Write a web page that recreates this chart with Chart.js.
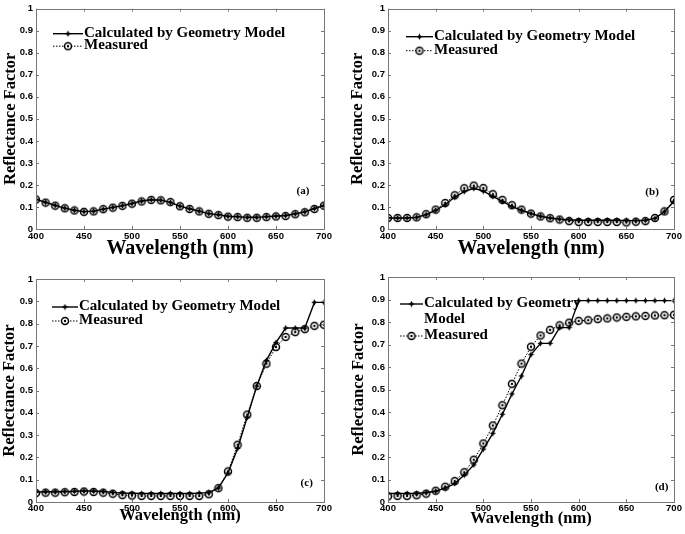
<!DOCTYPE html>
<html>
<head>
<meta charset="utf-8">
<script src="https://cdn.jsdelivr.net/npm/chart.js@4.4.1/dist/chart.umd.min.js"></script>
<style>
  html, body { margin: 0; padding: 0; background: #fff; }
  #wrap { position: relative; width: 685px; height: 534px; overflow: hidden; }
  #wrap canvas { position: absolute; }
</style>
</head>
<body>
<div id="wrap">
  <canvas id="cA" width="342" height="260" style="left:0;top:0"></canvas>
  <canvas id="cB" width="343" height="260" style="left:342px;top:0"></canvas>
  <canvas id="cC" width="342" height="274" style="left:0;top:260px"></canvas>
  <canvas id="cD" width="343" height="274" style="left:342px;top:260px"></canvas>
</div>
<script>
  // wavelengths (nm)
  const WAVELENGTH = [400, 410, 420, 430, 440, 450, 460, 470, 480, 490, 500, 510, 520, 530, 540, 550,
    560, 570, 580, 590, 600, 610, 620, 630, 640, 650, 660, 670, 680, 690, 700];

  const X_TICKS = [400, 450, 500, 550, 600, 650, 700];
  const Y_TICKS = ['0', '0.1', '0.2', '0.3', '0.4', '0.5', '0.6', '0.7', '0.8', '0.9', '1'];

  const SERIES_NAMES = ['Calculated by Geometry Model', 'Measured'];
  const PANEL_TAGS = ['(a)', '(b)', '(c)', '(d)'];

  // (a)
  const CALC_A = [0.135, 0.121, 0.107, 0.095, 0.085, 0.079, 0.081, 0.090, 0.098, 0.106, 0.116, 0.127, 0.133, 0.131, 0.121, 0.104,
    0.092, 0.081, 0.070, 0.065, 0.058, 0.056, 0.053, 0.053, 0.056, 0.059, 0.061, 0.069, 0.078, 0.093, 0.107];
  const MEAS_A = [0.134, 0.120, 0.106, 0.094, 0.084, 0.078, 0.080, 0.090, 0.097, 0.105, 0.115, 0.125, 0.132, 0.130, 0.122, 0.103,
    0.091, 0.080, 0.069, 0.063, 0.056, 0.054, 0.051, 0.051, 0.054, 0.057, 0.059, 0.067, 0.076, 0.091, 0.106];
  // (b)
  const CALC_B = [0.050, 0.050, 0.050, 0.053, 0.065, 0.085, 0.110, 0.145, 0.170, 0.185, 0.172, 0.148, 0.125, 0.102, 0.085, 0.070,
    0.058, 0.050, 0.045, 0.042, 0.040, 0.040, 0.040, 0.040, 0.040, 0.038, 0.038, 0.040, 0.048, 0.078, 0.125];
  const MEAS_B = [0.050, 0.050, 0.050, 0.053, 0.067, 0.088, 0.118, 0.153, 0.185, 0.197, 0.186, 0.158, 0.132, 0.108, 0.088, 0.070,
    0.057, 0.049, 0.043, 0.036, 0.032, 0.032, 0.032, 0.032, 0.032, 0.030, 0.033, 0.036, 0.050, 0.080, 0.132];
  // (c)
  const CALC_C = [0.045, 0.046, 0.046, 0.047, 0.048, 0.050, 0.049, 0.047, 0.043, 0.040, 0.039, 0.038, 0.038, 0.038, 0.038, 0.038,
    0.038, 0.040, 0.042, 0.063, 0.130, 0.240, 0.380, 0.520, 0.635, 0.715, 0.780, 0.780, 0.780, 0.895, 0.895];
  const MEAS_C = [0.040, 0.042, 0.042, 0.044, 0.045, 0.047, 0.045, 0.042, 0.037, 0.031, 0.029, 0.027, 0.027, 0.027, 0.027, 0.027,
    0.027, 0.027, 0.035, 0.062, 0.137, 0.257, 0.392, 0.520, 0.620, 0.695, 0.740, 0.762, 0.775, 0.790, 0.795];
  // (d)
  const CALC_D = [0.038, 0.038, 0.038, 0.038, 0.042, 0.048, 0.062, 0.082, 0.120, 0.165, 0.235, 0.305, 0.390, 0.480, 0.560, 0.655,
    0.705, 0.705, 0.775, 0.775, 0.895, 0.895, 0.895, 0.895, 0.895, 0.895, 0.895, 0.895, 0.895, 0.895, 0.895];
  const MEAS_D = [0.025, 0.027, 0.027, 0.030, 0.037, 0.050, 0.068, 0.093, 0.132, 0.188, 0.260, 0.340, 0.430, 0.525, 0.615, 0.690,
    0.740, 0.765, 0.785, 0.797, 0.805, 0.808, 0.813, 0.816, 0.820, 0.823, 0.825, 0.827, 0.829, 0.830, 0.832];

  // where the (a)..(d) tag sits, in data units
  const TAG_POS = [[678, 0.17], [677, 0.166], [682, 0.085], [687, 0.067]];

  const SERIF = "'Liberation Serif', 'Times New Roman', serif";
  const SANS = "'Liberation Sans', Arial, sans-serif";

  // ------------------------------------------------------------------
  //  marker images (MATLAB-ish '.-' and 'o:' with a centre dot)
  // ------------------------------------------------------------------
  function makeCalcMarker() {
    const c = document.createElement('canvas');
    c.width = 7; c.height = 7;
    const g = c.getContext('2d');
    g.fillStyle = '#000';
    g.beginPath();
    g.moveTo(3.5, 0.3); g.lineTo(4.6, 2.4); g.lineTo(6.7, 3.5); g.lineTo(4.6, 4.6);
    g.lineTo(3.5, 6.7); g.lineTo(2.4, 4.6); g.lineTo(0.3, 3.5); g.lineTo(2.4, 2.4);
    g.closePath();
    g.fill();
    return c;
  }
  function makeMeasMarker() {
    const c = document.createElement('canvas');
    c.width = 10; c.height = 10;
    const g = c.getContext('2d');
    g.strokeStyle = '#000';
    g.lineWidth = 1.5;
    g.fillStyle = '#fff';
    g.beginPath(); g.arc(5, 5, 3.5, 0, Math.PI * 2); g.fill(); g.stroke();
    g.fillStyle = '#000';
    g.beginPath(); g.arc(5, 5, 1.2, 0, Math.PI * 2); g.fill();
    return c;
  }
  const CALC_MARK = makeCalcMarker();
  const MEAS_MARK = makeMeasMarker();

  // ------------------------------------------------------------------
  //  frame, inward ticks, panel tag and in-plot legend
  // ------------------------------------------------------------------
  const matlabFrame = {
    id: 'matlabFrame',
    afterDraw(chart) {
      const o = chart.config.options.plugins.matlabFrame;
      const { ctx, chartArea: a } = chart;
      const xs = chart.scales.x, ys = chart.scales.y;
      ctx.save();
      ctx.strokeStyle = '#777';
      ctx.lineWidth = 1;
      ctx.strokeRect(Math.round(a.left) + 0.5, Math.round(a.top) + 0.5,
        Math.round(a.right - a.left), Math.round(a.bottom - a.top));
      ctx.beginPath();
      xs.ticks.forEach(t => {
        const px = Math.round(xs.getPixelForValue(t.value)) + 0.5;
        ctx.moveTo(px, a.bottom); ctx.lineTo(px, a.bottom - 3);
        ctx.moveTo(px, a.top); ctx.lineTo(px, a.top + 3);
      });
      ys.ticks.forEach(t => {
        const py = Math.round(ys.getPixelForValue(t.value)) + 0.5;
        ctx.moveTo(a.left, py); ctx.lineTo(a.left + 3, py);
        ctx.moveTo(a.right, py); ctx.lineTo(a.right - 3, py);
      });
      ctx.stroke();

      // panel tag
      ctx.fillStyle = '#000';
      ctx.font = 'bold 11px ' + SERIF;
      ctx.textAlign = 'center';
      ctx.textBaseline = 'middle';
      ctx.fillText(o.tag, xs.getPixelForValue(o.tagAt[0]), ys.getPixelForValue(o.tagAt[1]));

      // legend
      const L = o.legend;
      ctx.font = 'bold 15px ' + SERIF;
      ctx.textAlign = 'left';
      let row = 0;
      chart.data.datasets.forEach((ds, i) => {
        const y = a.top + L.dy + row * L.lineH;
        const x0 = a.left + L.dx, x1 = x0 + L.sampleW;
        ctx.beginPath();
        ctx.strokeStyle = '#000';
        ctx.lineWidth = ds.borderWidth;
        ctx.setLineDash(ds.borderDash || []);
        ctx.moveTo(x0, y); ctx.lineTo(x1, y);
        ctx.stroke();
        ctx.setLineDash([]);
        const mk = ds.pointStyle;
        ctx.drawImage(mk, (x0 + x1) / 2 - mk.width / 2, y - mk.height / 2);
        const lines = L.wrap && L.wrap[i] ? L.wrap[i] : [ds.label];
        lines.forEach(txt => {
          ctx.fillText(txt, x1 + 1, a.top + L.dy + row * L.lineH - 1);
          row++;
        });
      });
      ctx.restore();
    }
  };

  function pts(vals) {
    return vals.map((v, i) => ({ x: WAVELENGTH[i], y: v }));
  }

  function renderPanel(canvasId, idx, calc, meas, lay) {
    const el = document.getElementById(canvasId);
    return new Chart(el.getContext('2d'), {
      type: 'line',
      plugins: [matlabFrame],
      data: {
        datasets: [
          {
            label: SERIES_NAMES[0],
            data: pts(calc),
            borderColor: '#000',
            borderWidth: 1.4,
            pointStyle: CALC_MARK,
            pointRadius: 3,
            tension: 0
          },
          {
            label: SERIES_NAMES[1],
            data: pts(meas),
            borderColor: '#000',
            borderWidth: 1,
            borderDash: [1.5, 1.5],
            pointStyle: MEAS_MARK,
            pointRadius: 4,
            tension: 0
          }
        ]
      },
      options: {
        responsive: false,
        animation: false,
        events: [],
        layout: { padding: { left: 0, top: lay.padTop, right: lay.padRight, bottom: 0 } },
        plugins: {
          legend: { display: false },
          tooltip: { enabled: false },
          matlabFrame: { tag: PANEL_TAGS[idx], tagAt: TAG_POS[idx], legend: lay.legend }
        },
        scales: {
          x: {
            type: 'linear', min: 400, max: 700,
            afterBuildTicks: s => { s.ticks = X_TICKS.map(v => ({ value: v })); },
            afterFit: s => { s.height = lay.xH; },
            grid: { display: false, drawTicks: false },
            border: { display: false },
            ticks: { color: '#000', padding: lay.xTickPad, maxRotation: 0, autoSkip: false, font: { family: SANS, size: 9.5, weight: 'bold' }, callback: v => String(v) },
            title: { display: true, text: 'Wavelength (nm)', color: '#000', padding: { top: 0, bottom: lay.xTitlePad }, font: { family: SERIF, size: lay.xTitleSize, weight: 'bold', lineHeight: 1 } }
          },
          y: {
            type: 'linear', min: 0, max: 1,
            afterBuildTicks: s => { s.ticks = Y_TICKS.map(v => ({ value: parseFloat(v) })); },
            afterFit: s => { s.width = lay.yW; },
            grid: { display: false, drawTicks: false },
            border: { display: false },
            ticks: { color: '#000', padding: 3, autoSkip: false, font: { family: SANS, size: 9.5, weight: 'bold' }, callback: (v, i) => Y_TICKS[i] },
            title: { display: true, text: 'Reflectance Factor', color: '#000', padding: { top: lay.yTitlePad, bottom: 0 }, font: { family: SERIF, size: 16.5, weight: 'bold', lineHeight: 1 } }
          }
        }
      }
    });
  }

  renderPanel('cA', 0, CALC_A, MEAS_A, {
    padTop: 6, padRight: 18, xH: 31, yW: 36, xTickPad: 2, xTitleSize: 20, xTitlePad: 1, yTitlePad: 2,
    legend: { dx: 17, dy: 25, lineH: 12.5, sampleW: 30 }
  });
  renderPanel('cB', 1, CALC_B, MEAS_B, {
    padTop: 6, padRight: 11, xH: 31, yW: 46, xTickPad: 2, xTitleSize: 20, xTitlePad: 1, yTitlePad: 7,
    legend: { dx: 18, dy: 28, lineH: 14, sampleW: 27 }
  });
  renderPanel('cC', 2, CALC_C, MEAS_C, {
    padTop: 19, padRight: 18, xH: 32, yW: 36, xTickPad: 1, xTitleSize: 16.5, xTitlePad: 10, yTitlePad: 1,
    legend: { dx: 16, dy: 28, lineH: 14, sampleW: 26 }
  });
  renderPanel('cD', 3, CALC_D, MEAS_D, {
    padTop: 17, padRight: 11, xH: 32, yW: 46, xTickPad: 1, xTitleSize: 16.5, xTitlePad: 7, yTitlePad: 8,
    legend: { dx: 12, dy: 27, lineH: 16, sampleW: 23, wrap: [['Calculated by Geometry', 'Model']] }
  });
</script>
</body>
</html>
